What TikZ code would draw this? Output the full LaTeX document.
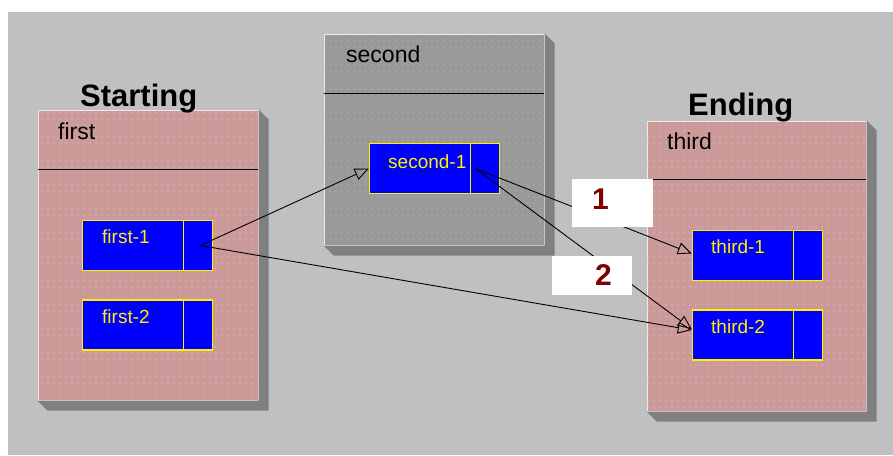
\documentclass[tikz,border=0pt]{standalone}
\usepackage{fontspec}
\setmainfont{Liberation Sans}
\usetikzlibrary{arrows.meta,patterns.meta,calc}

\definecolor{canvasgray}{RGB}{192,192,192}
\definecolor{rose}{RGB}{204,153,153}
\definecolor{slate}{RGB}{153,153,153}
\definecolor{dropgray}{RGB}{128,128,128}
\definecolor{rim}{RGB}{236,236,236}
\definecolor{dotcol}{RGB}{226,208,208}
\definecolor{dotgray}{RGB}{192,192,192}
\definecolor{numred}{RGB}{128,0,0}

% bevelled drop shadow on the lower right of a panel
\newcommand\panelshadow[1]{%
  \fill[dropgray] (#1.north east) -- ++(10,10) -- ($(#1.south east)+(10,10)$)
    -- ($(#1.south west)+(10,10)$) -- (#1.south west) -- (#1.south east) -- cycle;}

\begin{document}
\begin{tikzpicture}[x=1pt,y=-1pt,
  panel/.style={draw=rim, line width=1pt, inner sep=0pt, minimum width=220pt},
  rosepanel/.style={panel, fill=rose,
    postaction={pattern={Dots[distance=6pt,radius=0.7pt]}, pattern color=dotcol}},
  graypanel/.style={panel, fill=slate,
    postaction={pattern={Dots[distance=6pt,radius=0.7pt]}, pattern color=dotgray}},
  inbox/.style={draw=yellow, fill=blue, line width=1.5pt, inner sep=0pt,
    minimum width=130pt, minimum height=50pt},
  ttl/.style={font=\fontsize{31}{36}\selectfont\bfseries, anchor=base west, inner sep=0pt},
  hdr/.style={font=\fontsize{23}{28}\selectfont, anchor=base west, inner sep=0pt},
  celltxt/.style={font=\fontsize{19}{22}\selectfont, text=yellow, anchor=base west, inner sep=0pt},
  numbox/.style={fill=white, inner sep=0pt},
  numtxt/.style={font=\fontsize{30}{34}\selectfont\bfseries, text=numred, anchor=base west, inner sep=0pt},
  link/.style={draw=black, line width=0.9pt, -{Triangle[open,length=14pt,width=12pt]}}
]
\useasboundingbox (0,0) rectangle (893,455);
\fill[white] (0,0) rectangle (893,455);
\fill[canvasgray] (8,12) rectangle (893,455);

% the three panels
\node[rosepanel, minimum height=290pt] (first) at (148,255) {};
\node[graypanel, minimum height=211pt] (second) at (434,139.5) {};
\node[rosepanel, minimum width=219pt, minimum height=290pt] (third) at (756.5,266) {};
\panelshadow{first}
\panelshadow{second}
\panelshadow{third}

% header rules
\draw[line width=1.2pt] (first.north west) ++(0,60) -- ++(220,0);
\draw[line width=1.2pt] (second.north west) ++(0,60) -- ++(220,0);
\draw[line width=1.2pt] (third.north west) ++(0,59) -- ++(219,0);

% titles and panel names
\node[ttl] at (80,106) {Starting};
\node[ttl] at (688,115) {Ending};
\node[hdr] at (58,139) {first};
\node[hdr] at (346,62) {second};
\node[hdr] at (667,149) {third};

% inner boxes
\node[inbox] (f1) at (147.5,245.5) {};
\node[inbox] (f2) at (147.5,325) {};
\node[inbox] (s1) at (434.5,168.5) {};
\node[inbox] (t1) at (757.5,255.5) {};
\node[inbox] (t2) at (757.5,335) {};
\foreach \b in {f1,f2,s1,t1,t2}
  \draw[yellow, line width=1.5pt] ($(\b.north east)+(-30,0)$) -- ($(\b.south east)+(-30,0)$);
\node[celltxt] at (102,243) {first-1};
\node[celltxt] at (102,323) {first-2};
\node[celltxt] at (388,168) {second-1};
\node[celltxt] at (711,253) {third-1};
\node[celltxt] at (711,333) {third-2};

% connector end points inside the right cells
\coordinate (f1o) at ($(f1.east)+(-13,0)$);
\coordinate (s1o) at ($(s1.east)+(-25,0)$);

% connectors
\draw[link] (f1o) -- (s1.west);
\draw[link] (f1o) -- ($(t2.west)+(0,-5)$);
\draw[link] (s1o) -- ($(t1.west)+(0,-2)$);
\draw[link] (s1o) -- ($(t2.west)+(0,-6)$);

% numbered labels
\node[numbox, minimum width=81pt, minimum height=48pt] (n1) at (612.5,203) {};
\node[numbox, minimum width=80pt, minimum height=39pt] (n2) at (592,275.5) {};
\node[numtxt] at (592,209) {1};
\node[numtxt] at (595,285) {2};
\end{tikzpicture}
\end{document}
